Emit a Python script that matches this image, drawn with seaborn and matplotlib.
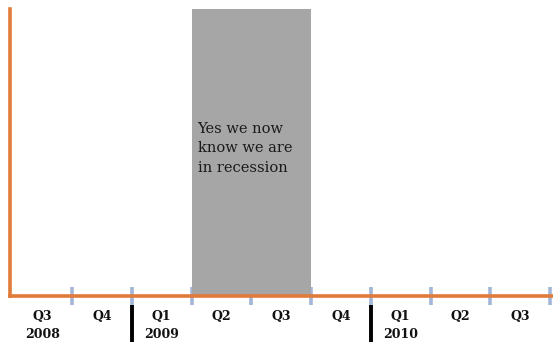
import matplotlib
matplotlib.use("Agg")
import matplotlib.pyplot as plt
import matplotlib.transforms as mtransforms
import seaborn as sns
import pandas as pd

# Quarter timeline, Q3 2008 through Q3 2010
quarters = ["Q3", "Q4", "Q1", "Q2", "Q3", "Q4", "Q1", "Q2", "Q3"]
years = ["2008", "", "2009", "", "", "", "2010", "", ""]
recession = [0, 0, 0, 1, 1, 0, 0, 0, 0]
note = "Yes we now\nknow we are\nin recession"

sns.set_theme(style="white")
plt.rcParams["font.family"] = ["DejaVu Serif"]

df = pd.DataFrame({"pos": range(len(quarters)), "recession": recession})

fig = plt.figure(figsize=(5.53, 3.42), dpi=100)
ax = fig.add_axes([10 / 553, 46 / 342, 543 / 553, 287 / 342])

sns.barplot(data=df, x="pos", y="recession", color="#a6a6a6", saturation=1,
            width=1.0, ax=ax, native_scale=True, edgecolor="none", linewidth=0)

n = len(quarters)
ax.set_xlim(-0.54, n - 0.45)
ax.set_ylim(0, 1)

orange = "#e07b39"
for side in ("top", "right"):
    ax.spines[side].set_visible(False)
for side in ("left", "bottom"):
    ax.spines[side].set_color(orange)
    ax.spines[side].set_linewidth(2.6)

ax.set_yticks([])
ax.set_xticks([i + 0.5 for i in range(n)])
ax.set_xticklabels([])
ax.tick_params(axis="x", direction="inout", length=13, width=2.6,
               color="#a3b5d9", bottom=True)
ax.set_xlabel("")
ax.set_ylabel("")

trans = mtransforms.blended_transform_factory(ax.transData, ax.transAxes)
for i, (q, y) in enumerate(zip(quarters, years)):
    ax.text(i, -0.07, q, transform=trans, ha="center", va="center",
            fontsize=9, fontweight="bold", color="#111111", clip_on=False)
    if y:
        ax.text(i, -0.133, y, transform=trans, ha="center", va="center",
                fontsize=9, fontweight="bold", color="#111111", clip_on=False)
        if i > 0:
            ax.plot([i - 0.5, i - 0.5], [-0.03, -0.2], transform=trans,
                    color="black", linewidth=2.8, clip_on=False,
                    solid_capstyle="butt")

start = recession.index(1)
ax.text(start - 0.4, 0.607, note, transform=trans, ha="left", va="top",
        fontsize=10.5, color="#1a1a1a", linespacing=1.5)

fig.savefig("out.png", dpi=100)
